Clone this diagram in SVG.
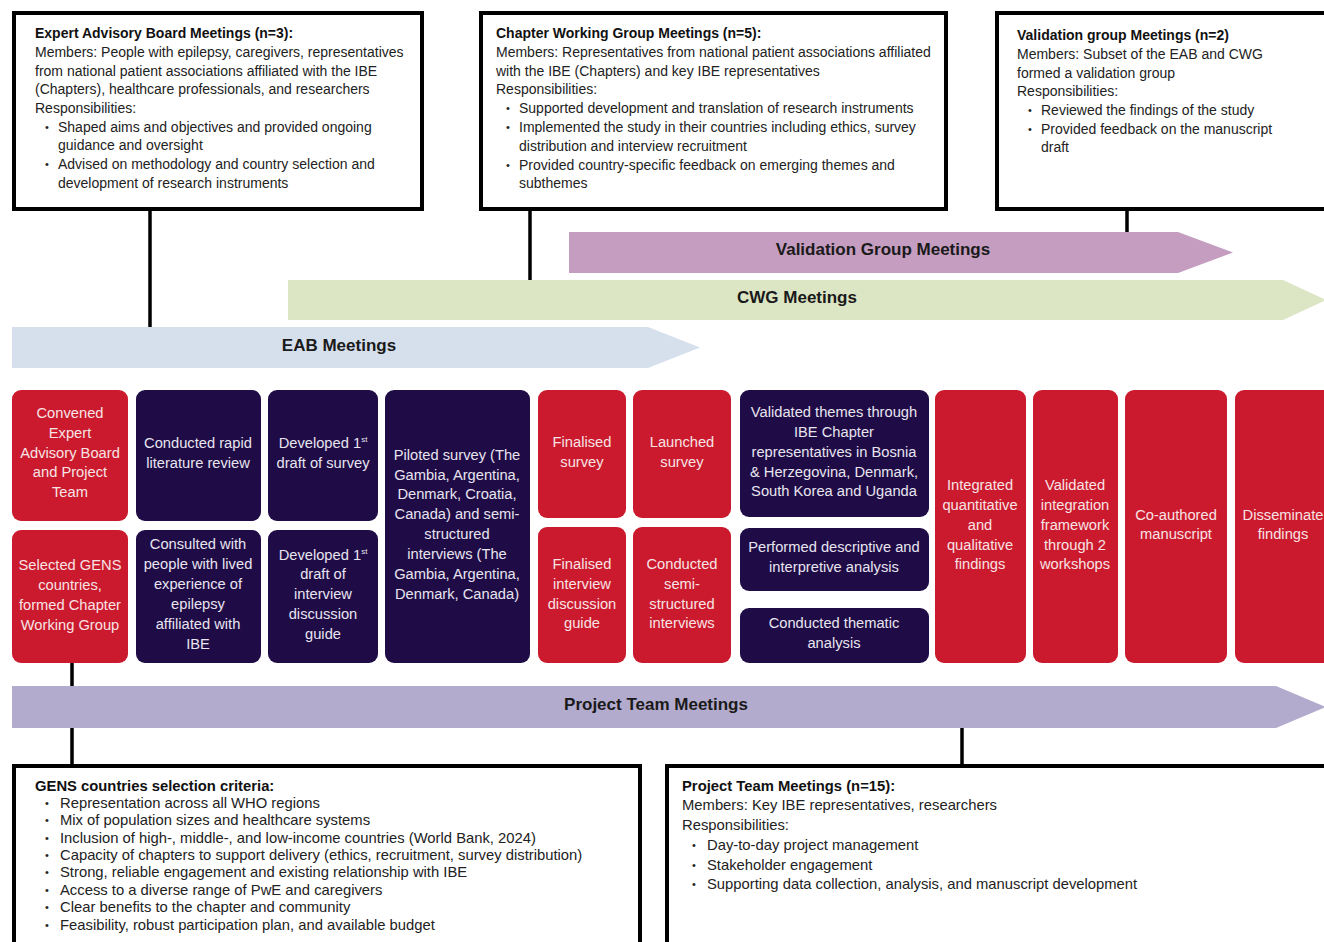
<svg xmlns="http://www.w3.org/2000/svg" width="1324" height="942" viewBox="0 0 1324 942">
<style>
.box{fill:#fff;stroke:#000;stroke-width:4}
.t{font-family:"Liberation Sans",Arial,sans-serif;font-size:14px;fill:#222}
.tb{font-family:"Liberation Sans",Arial,sans-serif;font-size:14px;font-weight:bold;fill:#111}
.bt{font-family:"Liberation Sans",Arial,sans-serif;font-size:14.8px;fill:#222}
.btb{font-family:"Liberation Sans",Arial,sans-serif;font-size:14.8px;font-weight:bold;fill:#111}
.bul{font-family:"Liberation Sans",Arial,sans-serif;font-size:11px;fill:#222}
.lab{font-family:"Liberation Sans",Arial,sans-serif;font-size:17px;font-weight:bold;fill:#1a1a1a;text-anchor:middle}
.red{fill:#cb1a2d}
.navy{fill:#1f0c46}
.w{font-family:"Liberation Sans",Arial,sans-serif;font-size:14.7px;text-anchor:middle}
.wr{fill:#f7e3e5}
.wn{fill:#e8e4f0}
.sup{font-size:8px}
.conn{stroke:#000;stroke-width:3.5;fill:none}
</style>

<g id="connectors">
<line class="conn" x1="150" y1="210" x2="150" y2="327"/>
<line class="conn" x1="530" y1="210" x2="530" y2="280"/>
<line class="conn" x1="1127" y1="210" x2="1127" y2="232"/>
<line class="conn" x1="72" y1="663" x2="72" y2="686"/>
<line class="conn" x1="72" y1="728" x2="72" y2="766"/>
<line class="conn" x1="962" y1="728" x2="962" y2="766"/>
</g>

<g id="arrow-validation">
<polygon points="569,232 1178,232 1233,252.5 1178,273 569,273" fill="#c49dc0"/>
<text class="lab" x="883" y="255">Validation Group Meetings</text>
</g>
<g id="arrow-cwg">
<polygon points="288,280 1283,280 1326,300 1283,320 288,320" fill="#dce6c5"/>
<text class="lab" x="797" y="303">CWG Meetings</text>
</g>
<g id="arrow-eab">
<polygon points="12,327 648,327 700,347.5 648,368 12,368" fill="#d6e0ed"/>
<text class="lab" x="339" y="351">EAB Meetings</text>
</g>
<g id="arrow-project">
<polygon points="12,686 1276,686 1326,707 1276,728 12,728" fill="#b3abcd"/>
<text class="lab" x="656" y="710">Project Team Meetings</text>
</g>

<g id="box-eab">
<rect class="box" x="14" y="13" width="408" height="196"/>
<text class="tb" x="35" y="38">Expert Advisory Board Meetings (n=3):</text>
<text class="t" x="35" y="57">Members: People with epilepsy, caregivers, representatives</text>
<text class="t" x="35" y="76">from national patient associations affiliated with the IBE</text>
<text class="t" x="35" y="94">(Chapters), healthcare professionals, and researchers</text>
<text class="t" x="35" y="113">Responsibilities:</text>
<text class="bul" x="45" y="131">•</text>
<text class="t" x="58" y="132">Shaped aims and objectives and provided ongoing</text>
<text class="t" x="58" y="150">guidance and oversight</text>
<text class="bul" x="45" y="168">•</text>
<text class="t" x="58" y="169">Advised on methodology and country selection and</text>
<text class="t" x="58" y="188">development of research instruments</text>
</g>

<g id="box-cwg">
<rect class="box" x="481" y="13" width="465" height="196"/>
<text class="tb" x="496" y="38">Chapter Working Group Meetings (n=5):</text>
<text class="t" x="496" y="57">Members: Representatives from national patient associations affiliated</text>
<text class="t" x="496" y="76">with the IBE (Chapters) and key IBE representatives</text>
<text class="t" x="496" y="94">Responsibilities:</text>
<text class="bul" x="506" y="112">•</text>
<text class="t" x="519" y="113">Supported development and translation of research instruments</text>
<text class="bul" x="506" y="131">•</text>
<text class="t" x="519" y="132">Implemented the study in their countries including ethics, survey</text>
<text class="t" x="519" y="151">distribution and interview recruitment</text>
<text class="bul" x="506" y="169">•</text>
<text class="t" x="519" y="170">Provided country-specific feedback on emerging themes and</text>
<text class="t" x="519" y="188">subthemes</text>
</g>

<g id="box-validation">
<rect class="box" x="997" y="13" width="340" height="196"/>
<text class="tb" x="1017" y="40">Validation group Meetings (n=2)</text>
<text class="t" x="1017" y="59">Members: Subset of the EAB and CWG</text>
<text class="t" x="1017" y="78">formed a validation group</text>
<text class="t" x="1017" y="96">Responsibilities:</text>
<text class="bul" x="1028" y="114">•</text>
<text class="t" x="1041" y="115">Reviewed the findings of the study</text>
<text class="bul" x="1028" y="133">•</text>
<text class="t" x="1041" y="134">Provided feedback on the manuscript</text>
<text class="t" x="1041" y="152">draft</text>
</g>

<g id="n1a"><rect class="red" x="12" y="390" width="116" height="131" rx="9"/>
<text class="w wr"><tspan x="70" y="418">Convened</tspan><tspan x="70" y="438">Expert</tspan><tspan x="70" y="458">Advisory Board</tspan><tspan x="70" y="477">and Project</tspan><tspan x="70" y="497">Team</tspan></text></g>
<g id="n1b"><rect class="red" x="12" y="530" width="116" height="133" rx="9"/>
<text class="w wr"><tspan x="70" y="570">Selected GENS</tspan><tspan x="70" y="590">countries,</tspan><tspan x="70" y="610">formed Chapter</tspan><tspan x="70" y="630">Working Group</tspan></text></g>

<g id="n2a"><rect class="navy" x="136" y="390" width="125" height="131" rx="9"/>
<text class="w wn"><tspan x="198" y="448">Conducted rapid</tspan><tspan x="198" y="468">literature review</tspan></text></g>
<g id="n2b"><rect class="navy" x="136" y="530" width="125" height="133" rx="9"/>
<text class="w wn"><tspan x="198" y="549">Consulted with</tspan><tspan x="198" y="569">people with lived</tspan><tspan x="198" y="589">experience of</tspan><tspan x="198" y="609">epilepsy</tspan><tspan x="198" y="629">affiliated with</tspan><tspan x="198" y="649">IBE</tspan></text></g>

<g id="n3a"><rect class="navy" x="268" y="390" width="110" height="131" rx="9"/>
<text class="w wn"><tspan x="323" y="448">Developed 1<tspan class="sup" dy="-6">st</tspan></tspan><tspan x="323" y="468">draft of survey</tspan></text></g>
<g id="n3b"><rect class="navy" x="268" y="530" width="110" height="133" rx="9"/>
<text class="w wn"><tspan x="323" y="560">Developed 1<tspan class="sup" dy="-6">st</tspan></tspan><tspan x="323" y="579">draft of</tspan><tspan x="323" y="599">interview</tspan><tspan x="323" y="619">discussion</tspan><tspan x="323" y="639">guide</tspan></text></g>

<g id="n4"><rect class="navy" x="385" y="390" width="145" height="273" rx="9"/>
<text class="w wn"><tspan x="457" y="460">Piloted survey (The</tspan><tspan x="457" y="480">Gambia, Argentina,</tspan><tspan x="457" y="499">Denmark, Croatia,</tspan><tspan x="457" y="519">Canada) and semi-</tspan><tspan x="457" y="539">structured</tspan><tspan x="457" y="559">interviews (The</tspan><tspan x="457" y="579">Gambia, Argentina,</tspan><tspan x="457" y="599">Denmark, Canada)</tspan></text></g>

<g id="n5a"><rect class="red" x="538" y="390" width="88" height="128" rx="9"/>
<text class="w wr"><tspan x="582" y="447">Finalised</tspan><tspan x="582" y="467">survey</tspan></text></g>
<g id="n5b"><rect class="red" x="538" y="527" width="88" height="136" rx="9"/>
<text class="w wr"><tspan x="582" y="569">Finalised</tspan><tspan x="582" y="589">interview</tspan><tspan x="582" y="609">discussion</tspan><tspan x="582" y="628">guide</tspan></text></g>

<g id="n6a"><rect class="red" x="633" y="390" width="98" height="128" rx="9"/>
<text class="w wr"><tspan x="682" y="447">Launched</tspan><tspan x="682" y="467">survey</tspan></text></g>
<g id="n6b"><rect class="red" x="633" y="527" width="98" height="136" rx="9"/>
<text class="w wr"><tspan x="682" y="569">Conducted</tspan><tspan x="682" y="589">semi-</tspan><tspan x="682" y="609">structured</tspan><tspan x="682" y="628">interviews</tspan></text></g>

<g id="n7a"><rect class="navy" x="740" y="390" width="189" height="127" rx="9"/>
<text class="w wn"><tspan x="834" y="417">Validated themes through</tspan><tspan x="834" y="437">IBE Chapter</tspan><tspan x="834" y="457">representatives in Bosnia</tspan><tspan x="834" y="477">&amp; Herzegovina, Denmark,</tspan><tspan x="834" y="496">South Korea and Uganda</tspan></text></g>
<g id="n7b"><rect class="navy" x="740" y="528" width="189" height="63" rx="9"/>
<text class="w wn"><tspan x="834" y="552">Performed descriptive and</tspan><tspan x="834" y="572">interpretive analysis</tspan></text></g>
<g id="n7c"><rect class="navy" x="740" y="608" width="189" height="55" rx="9"/>
<text class="w wn"><tspan x="834" y="628">Conducted thematic</tspan><tspan x="834" y="648">analysis</tspan></text></g>

<g id="n8"><rect class="red" x="935" y="390" width="91" height="273" rx="9"/>
<text class="w wr"><tspan x="980" y="490">Integrated</tspan><tspan x="980" y="510">quantitative</tspan><tspan x="980" y="530">and</tspan><tspan x="980" y="550">qualitative</tspan><tspan x="980" y="569">findings</tspan></text></g>
<g id="n9"><rect class="red" x="1033" y="390" width="85" height="273" rx="9"/>
<text class="w wr"><tspan x="1075" y="490">Validated</tspan><tspan x="1075" y="510">integration</tspan><tspan x="1075" y="530">framework</tspan><tspan x="1075" y="550">through 2</tspan><tspan x="1075" y="569">workshops</tspan></text></g>
<g id="n10"><rect class="red" x="1125" y="390" width="102" height="273" rx="9"/>
<text class="w wr"><tspan x="1176" y="520">Co-authored</tspan><tspan x="1176" y="539">manuscript</tspan></text></g>
<g id="n11"><rect class="red" x="1235" y="390" width="110" height="273" rx="9"/>
<text class="w wr"><tspan x="1283" y="520">Disseminate</tspan><tspan x="1283" y="539">findings</tspan></text></g>

<g id="box-gens">
<rect class="box" x="14" y="766" width="626" height="190"/>
<text class="btb" x="35" y="791">GENS countries selection criteria:</text>
<text class="bul" x="45" y="807">•</text><text class="bt" x="60" y="808">Representation across all WHO regions</text>
<text class="bul" x="45" y="824">•</text><text class="bt" x="60" y="825">Mix of population sizes and healthcare systems</text>
<text class="bul" x="45" y="842">•</text><text class="bt" x="60" y="843">Inclusion of high-, middle-, and low-income countries (World Bank, 2024)</text>
<text class="bul" x="45" y="859">•</text><text class="bt" x="60" y="860">Capacity of chapters to support delivery (ethics, recruitment, survey distribution)</text>
<text class="bul" x="45" y="876">•</text><text class="bt" x="60" y="877">Strong, reliable engagement and existing relationship with IBE</text>
<text class="bul" x="45" y="894">•</text><text class="bt" x="60" y="895">Access to a diverse range of PwE and caregivers</text>
<text class="bul" x="45" y="911">•</text><text class="bt" x="60" y="912">Clear benefits to the chapter and community</text>
<text class="bul" x="45" y="929">•</text><text class="bt" x="60" y="930">Feasibility, robust participation plan, and available budget</text>
</g>

<g id="box-project">
<rect class="box" x="667" y="766" width="680" height="190"/>
<text class="btb" x="682" y="791">Project Team Meetings (n=15):</text>
<text class="bt" x="682" y="810">Members: Key IBE representatives, researchers</text>
<text class="bt" x="682" y="830">Responsibilities:</text>
<text class="bul" x="692" y="849">•</text><text class="bt" x="707" y="850">Day-to-day project management</text>
<text class="bul" x="692" y="869">•</text><text class="bt" x="707" y="870">Stakeholder engagement</text>
<text class="bul" x="692" y="888">•</text><text class="bt" x="707" y="889">Supporting data collection, analysis, and manuscript development</text>
</g>
</svg>
